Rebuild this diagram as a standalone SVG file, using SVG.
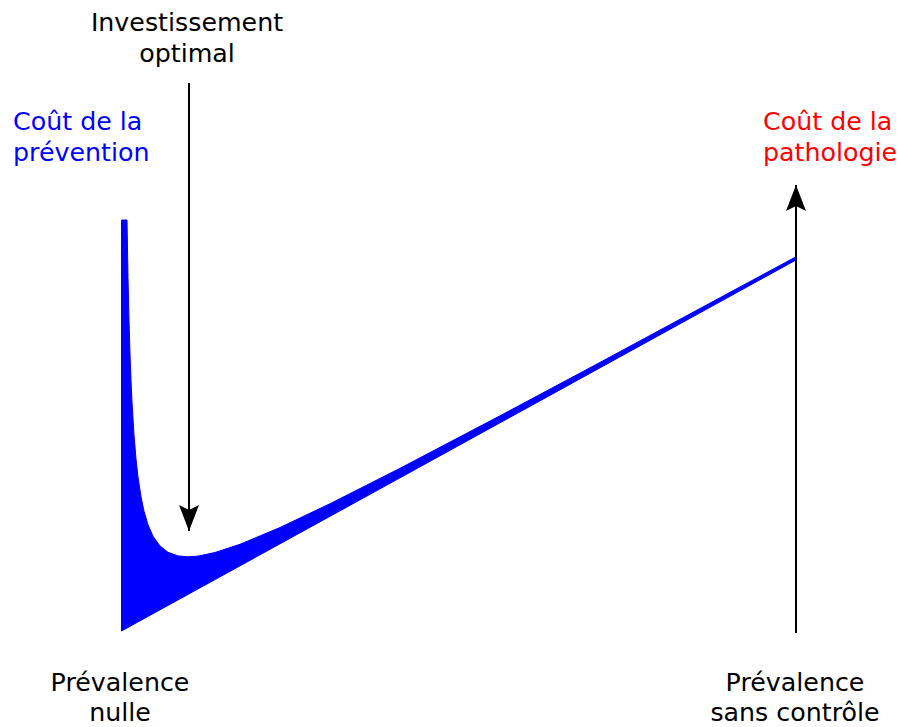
<svg xmlns="http://www.w3.org/2000/svg" width="898" height="727" viewBox="0 0 898 727">
  <style>
    text { font-family: "DejaVu Sans", "Liberation Sans", sans-serif; font-size: 25.3px; fill: #000; }
    .blue { fill: #0000ff; }
    .red { fill: #ff0000; }
    .mid { text-anchor: middle; }
    .axis { stroke: #000; stroke-width: 2; fill: none; }
  </style>
  <defs>
    <marker id="head" markerUnits="userSpaceOnUse" markerWidth="28" markerHeight="22" viewBox="0 0 28 22" refX="26" refY="11" orient="auto">
      <path d="M26,11 L0,1 L5,11 L0,21 Z" fill="#000"/>
    </marker>
  </defs>
  <rect width="898" height="727" fill="#fff"/>

  <g id="curve">
    <path fill="#0000ff" stroke="#0000ff" stroke-width="1" stroke-linejoin="miter"
      d="M121.5,220 L127,220 L128,277.3 L129,320.4 L130,353.8 L131,380.3 L132,402 L134,435.1 L136,459 L138,477.1 L141,496.9 L144,511.2 L148,524.8 L153,536.2 L160,546 L168,552.3 L178,555.9 L188,556.8 L198,556.1 L215,552.5 L240,544.3 L280,527.5 L330,503.7 L400,468.3 L500,415.8 L600,362.4 L700,308.5 L796,256.8 L796,260 L121.5,631 Z"/>
  </g>

  <g id="connectors">
    <line class="axis" x1="189" y1="83" x2="189" y2="531" marker-end="url(#head)"/>
    <line class="axis" x1="796" y1="633" x2="796" y2="185" marker-end="url(#head)"/>
  </g>

  <g id="label-investissement">
    <text class="mid" x="187" y="31">Investissement</text>
    <text class="mid" x="187" y="62">optimal</text>
  </g>
  <g id="label-cout-prevention">
    <text class="blue" x="13" y="130">Coût de la</text>
    <text class="blue" x="13" y="161">prévention</text>
  </g>
  <g id="label-cout-pathologie">
    <text class="red" x="763" y="130">Coût de la</text>
    <text class="red" x="763" y="161">pathologie</text>
  </g>
  <g id="label-prevalence-nulle">
    <text class="mid" x="120" y="691">Prévalence</text>
    <text class="mid" x="120" y="721">nulle</text>
  </g>
  <g id="label-prevalence-sans">
    <text class="mid" x="795" y="691">Prévalence</text>
    <text class="mid" x="795" y="721">sans contrôle</text>
  </g>
</svg>
